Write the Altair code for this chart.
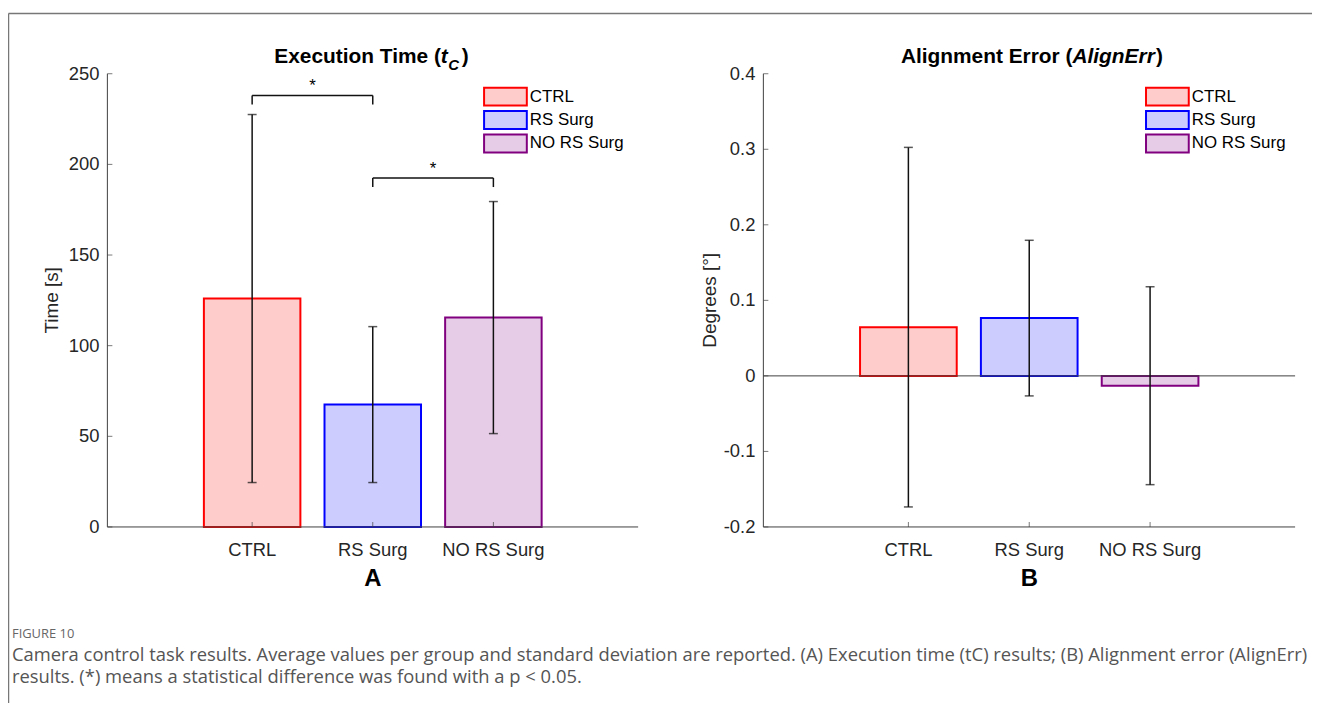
import altair as alt
import pandas as pd

# ---------------- data ----------------
groups = ["CTRL", "RS Surg", "NO RS Surg"]
positions = [1, 2, 3]
time_mean = [126.0, 67.5, 115.5]
time_sd = [101.5, 43.0, 64.0]
err_mean = [0.0645, 0.0765, -0.013]
err_sd = [0.238, 0.103, 0.131]
time_ticks = [0, 50, 100, 150, 200, 250]
time_labels = ["0", "50", "100", "150", "200", "250"]
err_ticks = [-0.2, -0.1, 0.0, 0.1, 0.2, 0.3, 0.4]
err_labels = ["-0.2", "-0.1", "0", "0.1", "0.2", "0.3", "0.4"]
# significance brackets (panel A)
br_left = [1, 2]
br_right = [2, 3]
br_top = [238.0, 192.5]
br_foot = [233.0, 187.5]
star_y = [243.0, 197.5]

fill_colors = ["#FFCCCC", "#CCCCFF", "#E6CCE6"]
stroke_colors = ["#FF0000", "#0000FF", "#800080"]

FONT = "Liberation Sans"
AX = "#404040"
LAB = "#262626"
H = 697
XDOM = [-0.2, 4.2]


def XD(v):
    return alt.XDatum(v, axis=None)


def YD(v):
    return alt.YDatum(v, axis=None)


def bar_df(mean, sd):
    return pd.DataFrame({
        "group": groups,
        "pos": positions,
        "x0": [p - 0.4 for p in positions],
        "x1": [p + 0.4 for p in positions],
        "mean": mean,
        "lo": [m - s for m, s in zip(mean, sd)],
        "hi": [m + s for m, s in zip(mean, sd)],
    })


dfA = bar_df(time_mean, time_sd)
dfB = bar_df(err_mean, err_sd)

seg_rows = []
for l, r, t, f in zip(br_left, br_right, br_top, br_foot):
    seg_rows.append({"x": l, "x2": r, "y": t, "y2": t})
    seg_rows.append({"x": l, "x2": l, "y": f, "y2": t})
    seg_rows.append({"x": r, "x2": r, "y": f, "y2": t})
segs = pd.DataFrame(seg_rows)
stars = pd.DataFrame({"x": [(l + r) / 2 for l, r in zip(br_left, br_right)], "y": star_y})


def legend_def(lx):
    # 43 x 18 px box drawn with an 18px symbol; label pushed past the box
    return alt.Legend(orient="none", legendX=lx, legendY=77, title=None,
                      symbolType="M-2.389,-1H2.389V1H-2.389Z", symbolSize=324,
                      symbolStrokeWidth=2, symbolOpacity=1, labelFontSize=17, labelFont=FONT,
                      labelColor="black", labelOffset=14.5, rowPadding=-2.4, padding=0)


def panel(df, rng_x, ydom, yticks, ylabels, lx, ytitle, ytitle_x, letter):
    xs = alt.Scale(domain=XDOM, range=rng_x, zero=False, nice=False)
    ys = alt.Scale(domain=ydom, range=[520, 64], zero=False, nice=False)
    ybase = ydom[0]
    bars = alt.Chart(df).mark_bar(strokeWidth=2, opacity=1).encode(
        x=alt.X("x0:Q", scale=xs, axis=None),
        x2="x1:Q",
        y=alt.Y("mean:Q", scale=ys, axis=None),
        y2=alt.datum(0),
        fill=alt.Fill("group:N", scale=alt.Scale(domain=groups, range=fill_colors), legend=legend_def(lx)),
        stroke=alt.Stroke("group:N", scale=alt.Scale(domain=groups, range=stroke_colors), legend=legend_def(lx)),
    )
    # axis lines
    xdomain = alt.Chart(df.head(1)).mark_rule(color=AX, strokeWidth=1).encode(
        x=XD(XDOM[0]), x2=alt.datum(XDOM[1]), y=YD(ybase))
    ydomain = alt.Chart(df.head(1)).mark_rule(color=AX, strokeWidth=1).encode(
        x=XD(XDOM[0]), y=YD(ydom[0]), y2=alt.datum(ydom[1]))
    tk = pd.DataFrame({"v": yticks, "lab": ylabels})
    ytk = alt.Chart(tk).mark_tick(orient="horizontal", size=5, thickness=1, color=AX, xOffset=2.5).encode(
        x=XD(XDOM[0]), y=alt.Y("v:Q", axis=None))
    ylab = alt.Chart(tk).mark_text(align="right", baseline="middle", dx=-8, fontSize=18.5,
                                   font=FONT, color=LAB).encode(
        x=XD(XDOM[0]), y=alt.Y("v:Q", axis=None), text="lab:N")
    xtk = alt.Chart(df).mark_tick(orient="vertical", size=5, thickness=1, color=AX, yOffset=-2.5).encode(
        x=alt.X("pos:Q", axis=None), y=YD(ybase))
    xlab = alt.Chart(df).mark_text(align="center", baseline="middle", dy=23, fontSize=18.5,
                                   font=FONT, color=LAB).encode(
        x=alt.X("pos:Q", axis=None), y=YD(ybase), text="group:N")
    letter_t = alt.Chart(df.head(1)).mark_text(text=letter, align="center", baseline="middle", dy=52,
                                               fontSize=24, fontWeight="bold", font=FONT, color="black").encode(
        x=XD(2), y=YD(ybase))
    ytitle_t = alt.Chart(df.head(1)).mark_text(text=ytitle, angle=270, align="center", baseline="middle",
                                               fontSize=19, font=FONT, color=LAB).encode(
        x=alt.value(ytitle_x), y=YD((ydom[0] + ydom[1]) / 2))
    err = alt.Chart(df).mark_rule(color="#111111", strokeWidth=1.5).encode(
        x=alt.X("pos:Q", axis=None), y=alt.Y("lo:Q", axis=None), y2="hi:Q")
    cap_lo = alt.Chart(df).mark_tick(orient="horizontal", size=9, thickness=1.5, color="#111111").encode(
        x=alt.X("pos:Q", axis=None), y=alt.Y("lo:Q", axis=None))
    cap_hi = alt.Chart(df).mark_tick(orient="horizontal", size=9, thickness=1.5, color="#111111").encode(
        x=alt.X("pos:Q", axis=None), y=alt.Y("hi:Q", axis=None))
    return [bars, xdomain, ydomain, ytk, ylab, xtk, xlab, letter_t, ytitle_t], [err, cap_lo, cap_hi]


baseA, errA = panel(dfA, [100, 634], [0, 250], time_ticks, time_labels, 490.5, "Time [s]", 44, "A")
baseB, errB = panel(dfB, [760, 1295], [-0.2, 0.4], err_ticks, err_labels, 1156.5, "Degrees [°]", 706, "B")

bracket = alt.Chart(segs).mark_rule(color="#111111", strokeWidth=1.5).encode(
    x=alt.X("x:Q", axis=None), x2="x2:Q", y=alt.Y("y:Q", axis=None), y2="y2:Q")
star = alt.Chart(stars).mark_text(text="*", fontSize=17, font=FONT, baseline="middle", color="black").encode(
    x=alt.X("x:Q", axis=None), y=alt.Y("y:Q", axis=None))
zero = alt.Chart(dfB.head(1)).mark_rule(color=AX, strokeWidth=1).encode(
    x=XD(XDOM[0]), x2=alt.datum(XDOM[1]), y=YD(0))

panelA = alt.layer(*baseA, *errA, bracket, star)
panelB = alt.layer(*baseB, zero, *errB)

one = pd.DataFrame({"a": [0]})


def txt(s, x, y, size, weight="normal", style="normal", align="left", color="black", font=FONT,
        baseline="alphabetic"):
    return alt.Chart(one).mark_text(text=s, fontSize=size, fontWeight=weight, fontStyle=style,
                                    align=align, color=color, font=font, baseline=baseline).encode(
        x=alt.value(x), y=alt.value(y))


def rule(x, x2, y, y2):
    return alt.Chart(one).mark_rule(color="#777777", strokeWidth=1.5).encode(
        x=alt.value(x), x2=alt.value(x2), y=alt.value(y), y2=alt.value(y2))


CAP = "Open Sans"
deco = [
    rule(0.5, 1312, 3.5, 3.5),
    rule(0.5, 0.5, 3.5, H),
    # panel A title
    txt("Execution Time (", 435.5, 53, 21, weight="bold", align="right"),
    txt("t", 435.5, 53, 21, weight="bold", style="italic"),
    txt("C", 443, 60, 15, weight="bold", style="italic"),
    txt(")", 456.5, 53, 21, weight="bold"),
    # panel B title
    txt("Alignment Error (", 1071, 53, 21, weight="bold", align="right"),
    txt("AlignErr", 1071, 53, 21, weight="bold", style="italic"),
    txt(")", 1155, 53, 21, weight="bold"),
    # caption
    txt("FIGURE 10", 4, 627.5, 13, color="#666666", font=CAP, baseline="middle"),
    txt("Camera control task results. Average values per group and standard deviation are reported. "
        "(A) Execution time (tC) results; (B) Alignment error (AlignErr)",
        4, 648.5, 18.5, color="#555555", font=CAP, baseline="middle"),
    txt("results. (*) means a statistical difference was found with a p < 0.05.",
        4, 671.5, 18.5, color="#555555", font=CAP, baseline="middle"),
]

chart = alt.layer(panelA, panelB, *deco).resolve_scale(
    x="independent", y="independent", fill="independent", stroke="independent"
).resolve_axis(x="independent", y="independent").resolve_legend(
    fill="independent", stroke="independent"
).properties(
    width=1312, height=H, autosize=alt.AutoSizeParams(type="none"), padding=0
).configure(font=FONT).configure_view(stroke=None)

chart.save("out.html", embed_options={"renderer": "svg", "actions": False})
